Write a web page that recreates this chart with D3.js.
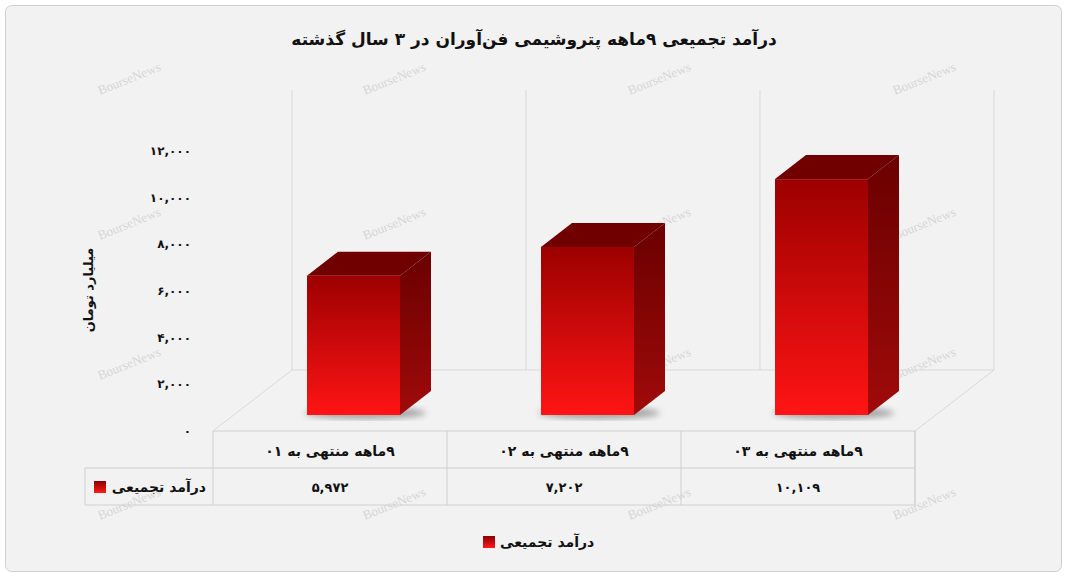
<!DOCTYPE html>
<html><head><meta charset="utf-8">
<script src="https://cdn.jsdelivr.net/npm/d3@7"></script>
<style>body{margin:0;background:#fff;font-family:"DejaVu Sans",sans-serif}</style>
</head><body><div id="chart"></div>
<script>
const categories = ["۹ماهه منتهی به ۰۱", "۹ماهه منتهی به ۰۲", "۹ماهه منتهی به ۰۳"];
const values = [5972, 7202, 10109];
const ticks = [0, 2000, 4000, 6000, 8000, 10000, 12000];
const seriesName = "درآمد تجمیعی";
const title = "درآمد تجمیعی ۹ماهه پتروشیمی فن‌آوران در ۳ سال گذشته";
const yTitle = "میلیارد تومان";

const W = 1067, H = 577;
const fa = s => String(s).replace(/\d/g, d => "۰۱۲۳۴۵۶۷۸۹"[d]);
const fmt = v => fa(d3.format(",")(v));

const svg = d3.select("#chart").append("svg").attr("width", W).attr("height", H);
const defs = svg.append("defs");
function grad(id, a, b) {
  const g = defs.append("linearGradient").attr("id", id).attr("x1", 0).attr("y1", 0).attr("x2", 0).attr("y2", 1);
  g.append("stop").attr("offset", "0%").attr("stop-color", a);
  g.append("stop").attr("offset", "100%").attr("stop-color", b);
}
grad("front", "#9c0000", "#ff1414");
grad("side", "#6a0000", "#a00a0a");
grad("leg", "#8a0000", "#ff1a1a");
defs.append("filter").attr("id", "blur").append("feGaussianBlur").attr("stdDeviation", 3);

svg.append("rect").attr("x", 5.5).attr("y", 5.5).attr("width", 1056).attr("height", 566).attr("rx", 6)
  .attr("fill", "#f2f2f2").attr("stroke", "#d0d0d0");

// watermarks
const wm = svg.append("g").attr("fill", "#d6d6d6").attr("font-family", "Liberation Serif").attr("font-size", 13);
[[100, 95], [365, 95], [630, 95], [895, 95], [100, 240], [365, 240], [630, 240], [895, 240],
 [100, 380], [365, 380], [630, 380], [895, 380], [100, 520], [365, 520], [630, 520], [895, 520]].forEach(([x, y]) =>
  wm.append("text").attr("transform", `translate(${x},${y}) rotate(-22)`).text("BourseNews"));

svg.append("text").attr("x", 534).attr("y", 45).attr("text-anchor", "middle").attr("font-size", 17)
  .attr("font-weight", "bold").attr("fill", "#111").text(title);

// geometry
const fx0 = 213, fx1 = 915, fy = 431, dx = 79, dy = -61;
const y = d3.scaleLinear().domain([0, 12000]).range([fy, 151]);
const x = d3.scaleBand().domain(categories).range([fx0, fx1]);
const wall = svg.append("g").attr("fill", "none").attr("stroke", "#d9d9d9");
wall.append("path").attr("d", `M${fx0},${fy}L${fx0 + dx},${fy + dy}L${fx1 + dx},${fy + dy}L${fx1},${fy}`);
[fx0, ...categories.map(c => x(c) + x.bandwidth())].forEach(v =>
  wall.append("line").attr("x1", v + dx).attr("x2", v + dx).attr("y1", fy + dy).attr("y2", 90));

// y axis labels
svg.append("g").selectAll("text").data(ticks).join("text")
  .attr("x", 191).attr("y", d => y(d) + 4).attr("text-anchor", "end").attr("font-size", 12)
  .attr("font-weight", "bold").attr("fill", "#111").text(fmt);
svg.append("text").attr("transform", "translate(93,290) rotate(-90)").attr("text-anchor", "middle")
  .attr("font-size", 13).attr("font-weight", "bold").attr("fill", "#111").text(yTitle);

// bars
const bw = 93, bdx = 31, bdy = -24, off = 94, lift = 16;
const bars = svg.append("g").selectAll("g").data(values).join("g");
bars.each(function (v, i) {
  const g = d3.select(this);
  const x0 = x(categories[i]) + off, yb = y(0) - lift, yt = y(v) - lift;
  g.append("ellipse").attr("cx", x0 + bw / 2 + 12).attr("cy", yb - 2).attr("rx", bw / 2 + 14).attr("ry", 6)
    .attr("fill", "#555").attr("opacity", 0.5).attr("filter", "url(#blur)");
  g.append("path").attr("d", `M${x0 + bw},${yt}L${x0 + bw + bdx},${yt + bdy}L${x0 + bw + bdx},${yb + bdy}L${x0 + bw},${yb}Z`)
    .attr("fill", "url(#side)");
  g.append("path").attr("d", `M${x0},${yt}L${x0 + bdx},${yt + bdy}L${x0 + bw + bdx},${yt + bdy}L${x0 + bw},${yt}Z`)
    .attr("fill", "#700000");
  g.append("rect").attr("x", x0).attr("y", yt).attr("width", bw).attr("height", yb - yt).attr("fill", "url(#front)");
});

// data table
const t = svg.append("g").attr("stroke", "#d0d0d0").attr("fill", "none");
t.append("path").attr("d", `M${fx0},${fy}H${fx1}V505H85V468H${fx1}`);
[fx0, ...categories.map(c => x(c) + x.bandwidth())].forEach(v =>
  t.append("line").attr("x1", v).attr("x2", v).attr("y1", fy).attr("y2", 505));
svg.append("g").selectAll("text").data(categories).join("text")
  .attr("x", c => x(c) + x.bandwidth() / 2).attr("y", 456).attr("text-anchor", "middle")
  .attr("font-size", 14).attr("font-weight", "bold").attr("fill", "#111").text(c => "\u200F" + c);
svg.append("g").selectAll("text").data(values).join("text")
  .attr("x", (v, i) => x(categories[i]) + x.bandwidth() / 2).attr("y", 492).attr("text-anchor", "middle")
  .attr("font-size", 13).attr("font-weight", "bold").attr("fill", "#111").text(fmt);
svg.append("rect").attr("x", 94).attr("y", 481).attr("width", 12).attr("height", 12).attr("fill", "url(#leg)");
svg.append("text").attr("x", 206).attr("y", 492).attr("text-anchor", "end").attr("font-size", 14)
  .attr("font-weight", "bold").attr("fill", "#111").text(seriesName);

// legend
svg.append("rect").attr("x", 483).attr("y", 536).attr("width", 12).attr("height", 12).attr("fill", "url(#leg)");
svg.append("text").attr("x", 500).attr("y", 547).attr("font-size", 14).attr("font-weight", "bold")
  .attr("fill", "#111").text(seriesName);
</script></body></html>
